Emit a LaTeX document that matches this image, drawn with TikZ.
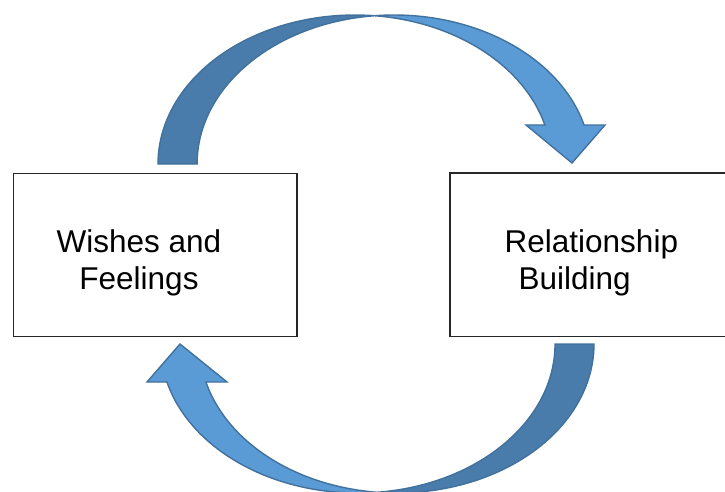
\documentclass[tikz,border=0pt]{standalone}
\usepackage{fontspec}
\setmainfont{Liberation Sans}
\definecolor{arrowfront}{HTML}{5B9BD5}
\definecolor{arrowback}{HTML}{497CAA}
\definecolor{arrowline}{HTML}{41719C}
\begin{document}
\begin{tikzpicture}[x=1pt,y=1pt,
	box/.style={draw=black!85,line width=1.4pt,minimum width=283.7pt,minimum height=163.4pt,inner sep=0pt},
	lbl/.style={font=\fontsize{31.5}{37}\selectfont,inner sep=0pt},
	backpart/.style={fill=arrowback,draw=arrowline,line width=1.4pt},
	frontpart/.style={fill=arrowfront,draw=arrowline,line width=1.4pt}]
	            \clip (0,0) rectangle (725,491);
	            \node[box] (wishes) at (155.15,236) {};
	            \node[box,minimum width=300pt] (relation) at (600,236.3) {};
	            \node[lbl,align=center] (wishestxt) at (139,228) {Wishes and\\Feelings};
	            \node[lbl,align=left,anchor=west] (relationtxt) at (504.5,228) {Relationship\\\hspace{14pt}Building};
	            \draw[backpart] (158,327) arc[start angle=180,end angle=84.3,x radius=196.9,y radius=149]
	                arc[start angle=95.7,end angle=180,x radius=196.9,y radius=149] -- cycle;
	            \draw[frontpart] (374.46,475.26) arc[start angle=95.7,end angle=15.17,x radius=196.9,y radius=149]
	                -- (605,366) -- (572,328) -- (526,366) -- (544.9,366)
	                arc[start angle=15.17,end angle=84.3,x radius=196.9,y radius=149] -- cycle;
	            \draw[backpart] (594,147) arc[start angle=0,end angle=-95.67,x radius=197.3,y radius=149]
	                arc[start angle=-84.33,end angle=0,x radius=197.3,y radius=149] -- cycle;
	            \draw[frontpart] (377.21,-1.27) arc[start angle=-84.33,end angle=-165.22,x radius=197.3,y radius=149]
	                -- (147,109) -- (180,147) -- (227,109) -- (205.93,109)
	                arc[start angle=-165.22,end angle=-95.67,x radius=197.3,y radius=149] -- cycle;
            \end{tikzpicture}
\end{document}
